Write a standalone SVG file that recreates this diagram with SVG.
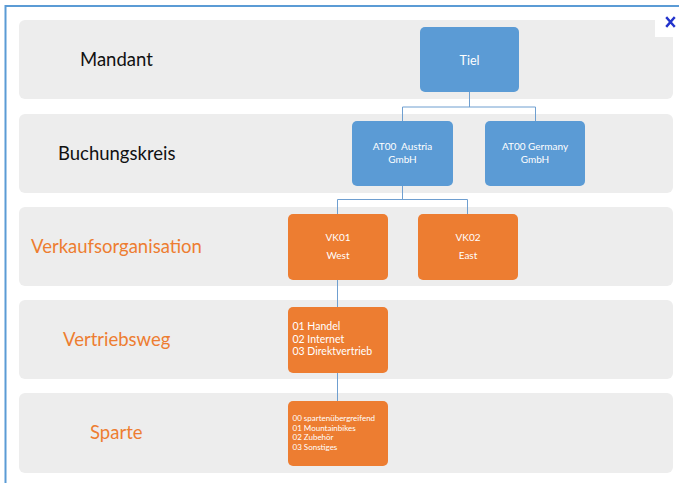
<svg xmlns="http://www.w3.org/2000/svg" width="679" height="483" viewBox="0 0 679 483">
  <style>
    .band { fill: #ededed; }
    .frame { stroke: #5b9bd5; stroke-width: 2; fill: none; }
    .blue { fill: #5b9bd5; }
    .orange { fill: #ed7d31; }
    .conn { stroke: #6f9fd0; stroke-width: 1; fill: none; }
    .lvl { font-family: Lato, "Liberation Sans", sans-serif; font-size: 18.5px; }
    .lvl-dark { fill: #111111; }
    .lvl-orange { fill: #ed7d31; }
    .nt { font-family: Lato, "Liberation Sans", sans-serif; fill: #ffffff; font-size: 10px; text-anchor: middle; }
    .nt-big { font-size: 12.5px; }
    .lt { font-family: Lato, "Liberation Sans", sans-serif; fill: #ffffff; font-size: 10.5px; }
    .st { font-family: Lato, "Liberation Sans", sans-serif; fill: #ffffff; font-size: 8px; }
  </style>

  <rect width="679" height="483" fill="#ffffff"/>

  <!-- window frame -->
  <path class="frame" d="M5.5 483 V6 H679"/>

  <!-- level bands -->
  <g id="bands">
    <rect class="band" x="19" y="20" width="654" height="79" rx="6"/>
    <rect class="band" x="19" y="114" width="654" height="79" rx="6"/>
    <rect class="band" x="19" y="207" width="654" height="79" rx="6"/>
    <rect class="band" x="19" y="300" width="654" height="79" rx="6"/>
    <rect class="band" x="19" y="393" width="654" height="80" rx="6"/>
  </g>

  <!-- close button -->
  <g id="close">
    <rect x="655" y="10" width="24" height="27" fill="#ffffff"/>
    <path d="M667 18 L674 26 M674 18 L667 26" stroke="#2233cc" stroke-width="2.4" stroke-linecap="square"/>
  </g>

  <!-- level labels -->
  <g id="labels">
    <text class="lvl lvl-dark" x="80" y="66">Mandant</text>
    <text class="lvl lvl-dark" x="58" y="160">Buchungskreis</text>
    <text class="lvl lvl-orange" x="31" y="253">Verkaufsorganisation</text>
    <text class="lvl lvl-orange" x="63" y="346">Vertriebsweg</text>
    <text class="lvl lvl-orange" x="90" y="439">Sparte</text>
  </g>

  <!-- connectors -->
  <g id="connectors">
    <path class="conn" d="M469.5 92 V107 M402.5 121 V107 H535.5 V121"/>
    <path class="conn" d="M402.5 186 V199.5 M337.5 214 V199.5 H467.5 V214"/>
    <path class="conn" d="M337.5 280 V307"/>
    <path class="conn" d="M337.5 373 V401"/>
  </g>

  <!-- nodes -->
  <g id="node-tiel">
    <rect class="blue" x="420" y="27" width="99" height="65" rx="5"/>
    <text class="nt nt-big" x="469.5" y="64.5">Tiel</text>
  </g>
  <g id="node-at00-austria">
    <rect class="blue" x="352" y="121" width="101" height="65" rx="5"/>
    <text class="nt" x="402.5" y="150" xml:space="preserve">AT00  Austria</text>
    <text class="nt" x="402.5" y="163">GmbH</text>
  </g>
  <g id="node-at00-germany">
    <rect class="blue" x="485" y="121" width="100" height="65" rx="5"/>
    <text class="nt" x="535" y="150">AT00 Germany</text>
    <text class="nt" x="535" y="163">GmbH</text>
  </g>
  <g id="node-vk01">
    <rect class="orange" x="288" y="214" width="100" height="66" rx="5"/>
    <text class="nt" x="338" y="241">VK01</text>
    <text class="nt" x="338" y="259">West</text>
  </g>
  <g id="node-vk02">
    <rect class="orange" x="418" y="214" width="100" height="66" rx="5"/>
    <text class="nt" x="468" y="241">VK02</text>
    <text class="nt" x="468" y="259">East</text>
  </g>
  <g id="node-vertriebsweg">
    <rect class="orange" x="288" y="307" width="100" height="66" rx="5"/>
    <text class="lt" x="292.5" y="330">01 Handel</text>
    <text class="lt" x="292.5" y="343">02 Internet</text>
    <text class="lt" x="292.5" y="355">03 Direktvertrieb</text>
  </g>
  <g id="node-sparte">
    <rect class="orange" x="288" y="401" width="100" height="65" rx="5"/>
    <text class="st" x="292.5" y="421">00 spartenübergreifend</text>
    <text class="st" x="292.5" y="430.7">01 Mountainbikes</text>
    <text class="st" x="292.5" y="440.3">02 Zubehör</text>
    <text class="st" x="292.5" y="450">03 Sonstiges</text>
  </g>
</svg>
